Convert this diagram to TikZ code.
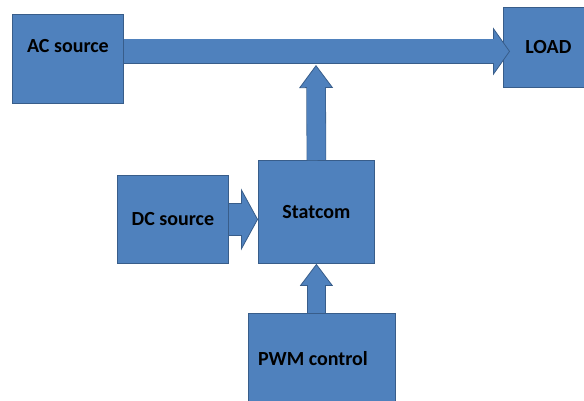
\documentclass[tikz,border=0pt]{standalone}
\usepackage{fontspec}
\setmainfont{Carlito}
\usetikzlibrary{arrows.meta}

\definecolor{boxblue}{HTML}{4F81BD}
\definecolor{boxedge}{HTML}{385D8A}
\newcommand{\blockfont}{\bfseries\fontsize{20}{20}\selectfont}

\begin{document}
\begin{tikzpicture}[x=1pt, y=-1pt,
    block/.style={draw=boxedge, fill=boxblue, line width=0.8pt, inner sep=0pt,
        anchor=north west, font=\blockfont},
    fatarrow/.style n args={3}{draw=boxblue, line width=#1,
        -{Triangle[width=#2, length=#3, line width=0.8pt, color=boxedge, fill=boxblue]},
        preaction={draw=boxedge, line width=#1+1.6pt, -, shorten >=#3},
        postaction={draw=boxblue, line width=#1, -, shorten >=#3-1pt}},
]
    \useasboundingbox (0,0) rectangle (584,400);

% blocks
    \node[block, minimum width=111pt, minimum height=89pt,
        label={[font=\blockfont, yshift=12.5pt]center:AC source}] (ac) at (12,14) {};
    \node[block, minimum width=90pt, minimum height=80pt] (load) at (503,7) {LOAD};
    \node[block, minimum width=116pt, minimum height=103pt] (statcom) at (258,160) {Statcom};
    \node[block, minimum width=111pt, minimum height=88pt] (dc) at (117,175) {DC source};
    \node[block, minimum width=147pt, minimum height=90pt,
        label={[font=\blockfont, xshift=-9pt]center:PWM control}] (pwm) at (248,313) {};

% main line from AC to LOAD
    \draw[fatarrow={24pt}{48pt}{17pt}] ([yshift=7.5pt]ac.east) -- ([shift={(7pt,-4pt)}]load.west);

% statcom feeds the line
    \coordinate (tap) at (316,65);
    \draw[fatarrow={18pt}{34pt}{23pt}] (statcom.north) -- (tap);

% inputs of statcom
    \draw[fatarrow={31pt}{62pt}{17pt}] (dc.east) -- (dc.east -| statcom.west);
    \draw[fatarrow={17pt}{33pt}{22pt}] (statcom.south |- pwm.north) -- (statcom.south);

\end{tikzpicture}
\end{document}
